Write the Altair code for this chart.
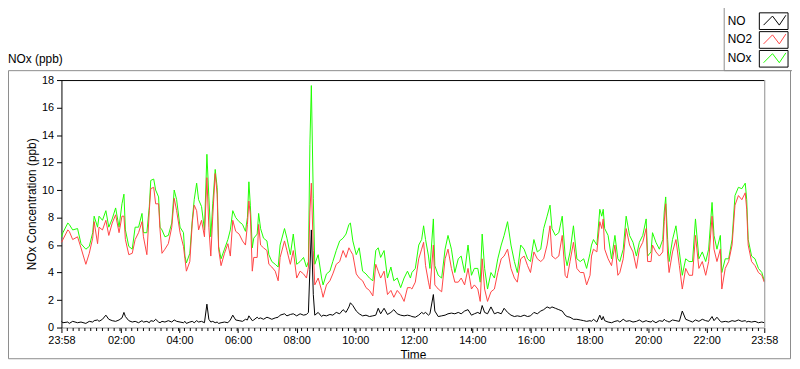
import altair as alt
import pandas as pd

# ---- data (minutes after 23:58, ppb) ----
MINUTES = [
    0, 3, 13, 16, 23, 33, 40, 50, 57, 64, 67, 74, 77, 84, 91, 97, 104, 111, 118, 124,
    128, 131, 138, 145, 151, 158, 165, 168, 175, 180, 183, 189,
    193, 199, 202, 206, 212, 219, 226, 231, 236, 243, 250, 253, 256, 263, 268, 272, 277, 281,
    287, 293, 298, 302, 306, 310, 315, 319, 322, 327, 334, 341, 346, 351,
    357, 364, 371, 377, 381, 384, 387, 391, 394, 401, 404, 408, 414, 421, 425, 431, 438, 444, 448, 457,
    462, 469, 475, 482, 489, 496, 502, 506, 509, 512, 516, 519, 526, 533, 536, 543, 550, 556, 563, 570,
    577, 583, 589, 592, 597, 604, 610, 617, 624, 631, 638, 644, 649, 654, 661, 668, 675, 681, 688, 695,
    702, 709, 715,
    718, 725, 732, 738, 742, 746, 752, 755, 762, 765, 772, 779, 786, 792, 799, 806, 813, 819, 826, 833,
    840, 846, 853, 858, 862, 867, 873, 880, 887, 894, 901, 907, 914, 921, 928, 934, 941, 948, 955, 961,
    968, 975, 982, 988, 995, 1001, 1005, 1012, 1019, 1026, 1032, 1036, 1042, 1049, 1056, 1063, 1070, 1076,
    1083, 1086, 1090, 1097, 1103, 1107, 1110, 1113, 1120, 1127, 1134, 1140, 1144, 1151, 1157, 1164, 1171, 1178, 1184, 1191,
    1198, 1201, 1208, 1211, 1218, 1225, 1232, 1235, 1238, 1242, 1245, 1252, 1259, 1266, 1272, 1279, 1286, 1293, 1299, 1306,
    1313, 1320, 1326, 1333, 1337, 1343, 1350, 1353, 1360, 1367, 1374, 1380, 1387, 1394, 1401, 1404, 1407, 1414, 1421, 1428,
    1435, 1440,
]
NOX = [
    6.6, 6.9, 7.6, 7.5, 7.1, 7.2, 6.1, 5.7, 5.9, 6.9, 8.1, 7.3, 8.1, 7.8, 8.5, 7.3, 7.9, 8.7, 7.3, 9.0,
    9.7, 7.1, 5.9, 5.7, 7.3, 7.3, 8.3, 6.9, 6.9, 8.8, 10.7, 10.8,
    10.0, 9.5, 7.3, 7.1, 6.6, 6.7, 7.6, 10.0, 9.3, 7.3, 6.9, 5.2, 4.7, 5.4, 7.8, 9.3, 10.5, 9.3,
    8.8, 7.1, 12.6, 9.5, 6.6, 9.0, 11.5, 10.2, 5.9, 5.0, 5.7, 6.4, 7.1, 8.5,
    8.0, 7.7, 7.5, 7.0, 8.0, 10.6, 8.9, 5.8, 6.5, 6.8, 8.3, 7.2, 6.5, 6.3, 5.3, 4.8, 4.6, 4.4, 6.0, 7.2,
    6.5, 5.3, 6.8, 4.6, 4.8, 5.1, 4.4, 4.8, 13.3, 17.6, 9.4, 4.6, 5.3, 3.6, 3.1, 3.9, 4.1, 4.8, 5.6, 6.3,
    6.5, 6.8, 7.5, 7.6, 6.3, 5.3, 5.8, 4.1, 3.9, 3.6, 3.4, 5.6, 5.8, 5.1, 5.6, 3.6, 4.4, 3.4, 3.6, 2.9,
    3.6, 4.1, 3.6,
    4.0, 4.3, 6.0, 6.4, 7.4, 6.4, 5.2, 4.3, 7.9, 4.5, 3.8, 3.6, 5.7, 6.7, 5.7, 4.0, 5.0, 5.2, 4.0, 6.0,
    3.8, 4.3, 4.3, 3.3, 6.8, 4.3, 2.8, 4.0, 3.6, 5.0, 6.0, 6.7, 7.7, 6.0, 4.8, 4.0, 6.0, 5.7, 5.0, 4.8,
    6.4, 5.5, 5.7, 7.2, 8.1, 8.9, 7.2, 6.7, 6.9, 8.1, 5.2, 4.5, 5.5, 7.4, 5.0, 4.8, 5.0, 4.3,
    5.4, 6.0, 6.4, 6.0, 8.6, 8.1, 8.6, 7.2, 6.7, 5.0, 6.7, 5.0, 4.8, 5.7, 8.1, 6.7, 6.2, 5.2, 6.2, 6.7,
    7.9, 5.2, 5.5, 6.9, 6.2, 5.7, 6.4, 8.4, 9.5, 6.4, 4.8, 6.4, 7.4, 5.5, 3.8, 5.0, 4.8, 4.8, 7.9, 5.0,
    5.5, 4.8, 5.7, 9.1, 6.7, 5.7, 6.7, 4.0, 5.0, 5.0, 6.4, 9.6, 10.2, 10.1, 10.5, 9.3, 6.4, 5.2, 5.0, 4.3,
    4.0, 3.4,
]
NO2 = [
    6.2, 6.4, 7.1, 7.0, 6.4, 6.6, 5.8, 4.6, 5.4, 6.5, 7.7, 6.1, 7.3, 7.1, 7.8, 6.7, 7.6, 8.2, 6.9, 8.1,
    8.1, 6.4, 5.3, 5.4, 6.4, 6.9, 7.7, 6.6, 5.3, 8.5, 10.1, 10.2,
    9.0, 9.0, 7.1, 5.4, 5.7, 6.1, 7.3, 9.4, 8.5, 6.9, 5.9, 5.0, 4.1, 4.8, 7.6, 8.9, 8.5, 7.1,
    7.8, 6.6, 10.9, 7.3, 5.2, 8.1, 11.2, 9.7, 5.7, 4.5, 5.4, 6.1, 5.2, 7.8,
    7.0, 6.8, 6.3, 6.0, 7.5, 9.2, 8.2, 4.1, 5.1, 5.1, 7.5, 6.0, 5.8, 5.6, 4.6, 4.4, 4.1, 3.4, 5.1, 6.3,
    5.6, 4.6, 5.6, 3.6, 4.1, 3.9, 3.6, 4.4, 8.4, 10.5, 5.6, 3.1, 3.6, 2.7, 2.2, 3.1, 3.4, 3.9, 4.6, 4.8,
    5.6, 5.1, 5.8, 5.6, 5.3, 3.9, 3.6, 3.4, 2.9, 2.7, 2.3, 4.6, 4.1, 3.6, 4.1, 2.4, 2.7, 2.2, 2.7, 2.4,
    1.9, 2.9, 2.9,
    2.8, 3.3, 5.0, 5.7, 6.2, 4.5, 3.3, 2.8, 6.0, 3.1, 2.8, 2.6, 5.0, 5.7, 4.3, 3.3, 3.3, 3.6, 3.1, 4.3,
    2.8, 3.1, 2.8, 1.9, 5.0, 2.8, 1.9, 2.6, 2.8, 4.0, 5.0, 5.2, 5.7, 4.3, 3.6, 3.3, 5.0, 5.2, 4.5, 4.0,
    5.5, 5.0, 4.8, 5.0, 6.0, 7.4, 5.2, 5.0, 5.2, 6.7, 3.8, 3.6, 4.8, 6.2, 4.3, 4.0, 4.0, 3.1,
    3.8, 5.2, 5.7, 5.5, 7.7, 7.2, 7.9, 5.7, 5.0, 4.5, 6.0, 3.8, 4.0, 5.0, 7.2, 6.0, 5.5, 4.3, 5.7, 6.2,
    7.2, 4.8, 4.8, 6.0, 5.5, 5.2, 5.5, 7.7, 9.0, 5.2, 4.0, 5.5, 6.4, 4.5, 2.8, 4.3, 3.8, 3.8, 6.7, 4.3,
    4.8, 3.8, 4.8, 8.1, 5.7, 4.8, 5.7, 2.8, 4.3, 4.8, 6.0, 8.9, 9.6, 9.3, 9.8, 8.6, 6.0, 4.8, 4.5, 4.0,
    3.8, 3.3,
]
NO = [
    0.45, 0.35, 0.4, 0.3, 0.45, 0.35, 0.4, 0.3, 0.45, 0.4, 0.5, 0.55, 0.45, 0.6, 0.9, 0.6, 0.5, 0.45, 0.55, 0.7,
    1.1, 0.8, 0.5, 0.4, 0.45, 0.35, 0.5, 0.4, 0.45, 0.35, 0.5, 0.45,
    0.6, 0.4, 0.35, 0.45, 0.4, 0.5, 0.4, 0.55, 0.45, 0.4, 0.35, 0.45, 0.3, 0.4, 0.45, 0.35, 0.5, 0.4,
    0.45, 0.35, 1.7, 0.6, 0.4, 0.45, 0.35, 0.4, 0.3, 0.35, 0.4, 0.35, 0.55, 0.9,
    0.55, 0.5, 0.45, 0.6, 0.55, 0.85, 0.7, 0.5, 0.55, 0.75, 0.65, 0.7, 0.6, 0.75, 0.7, 0.6, 0.7, 0.75, 0.9, 1.0,
    0.85, 0.95, 1.0, 0.85, 1.0, 0.9, 0.95, 1.1, 4.2, 7.1, 2.4, 0.9, 1.1, 0.8, 0.9, 0.85, 0.95, 0.9, 1.1, 1.0,
    1.3, 1.1, 1.5, 1.8, 1.6, 1.2, 1.0, 0.85, 0.9, 0.8, 0.85, 0.9, 1.4, 1.0, 1.4, 0.95, 1.1, 1.3, 1.0, 0.9,
    0.85, 0.9, 0.85,
    0.8, 0.75, 0.9, 1.1, 1.0, 1.1, 0.9, 1.0, 2.4, 1.2, 0.8, 0.85, 0.9, 1.0, 1.05, 1.0, 1.1, 1.0, 1.2, 1.3,
    0.9, 1.0, 1.1, 1.0, 1.6, 1.1, 1.0, 1.5, 1.0, 1.1, 1.0, 1.4, 1.1, 0.9, 0.8, 0.85, 0.8, 0.9, 0.8, 0.85,
    1.1, 1.0, 1.2, 1.3, 1.5, 1.4, 1.5, 1.4, 1.3, 1.2, 0.9, 0.8, 0.75, 0.6, 0.6, 0.55, 0.5, 0.45,
    0.5, 0.45, 0.6, 0.4, 0.9, 0.55, 0.8, 0.5, 0.4, 0.35, 0.45, 0.5, 0.4, 0.6, 0.45, 0.5, 0.4, 0.45, 0.55, 0.4,
    0.5, 0.45, 0.4, 0.5, 0.35, 0.5, 0.45, 0.6, 0.5, 0.45, 0.4, 0.55, 0.5, 0.45, 1.2, 0.6, 0.5, 0.4, 0.55, 0.45,
    0.6, 0.5, 0.45, 0.8, 0.5, 0.75, 0.45, 0.4, 0.45, 0.4, 0.5, 0.45, 0.55, 0.45, 0.5, 0.4, 0.45, 0.4, 0.45, 0.35,
    0.4, 0.35,
]
assert len(MINUTES) == len(NOX) == len(NO2) == len(NO)

SERIES = ["NO", "NO2", "NOx"]
COLORS = ["#000000", "#FF4444", "#1EFF00"]
X_TICK_LABELS = ["23:58", "02:00", "04:00", "06:00", "08:00", "10:00", "12:00",
                 "14:00", "16:00", "18:00", "20:00", "22:00", "23:58"]
Y_TICKS = [0, 2, 4, 6, 8, 10, 12, 14, 16, 18]
START = "2015-03-09 23:58"
MINOR_STEP_MIN = 12

# ---- layout / style ----
W, H = 710, 250
FONT = "Liberation Sans"
GRAY = "#8c8c8c"

start = pd.Timestamp(START)
df = pd.DataFrame({
    "time": [start + pd.Timedelta(minutes=m) for m in MINUTES],
    "NO": NO, "NO2": NO2, "NOx": NOX,
})


def dt(ts):
    return alt.DateTime(year=ts.year, month=ts.month, date=ts.day,
                        hours=ts.hour, minutes=ts.minute)


tick_ts = []
for i, lab in enumerate(X_TICK_LABELS):
    h, m = map(int, lab.split(":"))
    day = start.normalize() + pd.Timedelta(days=0 if i == 0 else 1)
    tick_ts.append(day + pd.Timedelta(hours=h, minutes=m))
end = tick_ts[-1]

minor_df = pd.DataFrame({"time": [start + pd.Timedelta(minutes=MINOR_STEP_MIN * k)
                                  for k in range(1, int((end - start).total_seconds() // 60 // MINOR_STEP_MIN))]})

xscale = alt.Scale(domain=[dt(start), dt(end)])
xaxis = alt.Axis(values=[dt(t) for t in tick_ts], format="%H:%M", title="Time",
                 grid=False, tickSize=5, tickColor="black", domainColor=GRAY,
                 labelFontSize=11, labelColor="black", labelPadding=2, labelFlush=False,
                 labelOverlap=False, labelFont=FONT, titleFont=FONT, titleFontSize=12,
                 titleFontWeight="normal", titleColor="black", titlePadding=4)
yscale = alt.Scale(domain=[0, 18], nice=False)
yaxis = alt.Axis(values=Y_TICKS, title="NOx Concentration (ppb)", grid=False, tickSize=5,
                 tickColor="black", domainColor="black", labelFontSize=11, labelColor="black",
                 labelPadding=3, labelFont=FONT, titleFont=FONT, titleFontSize=12,
                 titleFontWeight="normal", titleColor="black", titlePadding=3)

X = alt.X("time:T", scale=xscale, axis=xaxis)


def series_layer(field, color):
    return alt.Chart(df).mark_line(color=color, strokeWidth=1).encode(
        x=X, y=alt.Y(f"{field}:Q", scale=yscale, axis=yaxis))


one = pd.DataFrame({"k": [0]})


def deco(mark, **enc):
    return alt.Chart(one).mark_rule(**mark).encode(**{k: alt.value(v) for k, v in enc.items()})


outer = alt.Chart(one).mark_rect(fillOpacity=0, stroke=GRAY, strokeWidth=1).encode(
    x=alt.value(-53.5), x2=alt.value(736.5), y=alt.value(-9.5), y2=alt.value(281.5))
legend_box = alt.Chart(one).mark_rect(fillOpacity=0, stroke=GRAY, strokeWidth=1).encode(
    x=alt.value(669.5), x2=alt.value(745), y=alt.value(-80), y2=alt.value(-9.5))

top_border = deco(dict(color="black", strokeWidth=1), x=0, x2=W, y=0.5)
right_border = deco(dict(color=GRAY, strokeWidth=1), x=W + 0.5, y=0, y2=H)

minor_ticks = alt.Chart(minor_df).mark_rule(color="black", strokeWidth=1).encode(
    x=X, y=alt.value(H + 0.5), y2=alt.value(H + 3.5))

title = alt.Chart(one).mark_text(text="NOx (ppb)", align="left", baseline="middle",
                                 font=FONT, fontSize=12, color="black").encode(
    x=alt.value(-54), y=alt.value(-21))

BOX_PATH = "M-1,-0.58H1V0.58H-1Z"
ZIG_PATH = "M-0.77,0.3L-0.09,-0.39L0.43,0.3L0.93,-0.45"
legend_layers = []
for i, (name, color) in enumerate(zip(SERIES, COLORS)):
    ry = -60 + i * 19
    legend_layers.append(alt.Chart(one).mark_text(
        text=name, align="left", baseline="middle", font=FONT, fontSize=12, color="black").encode(
        x=alt.value(673), y=alt.value(ry)))
    legend_layers.append(alt.Chart(one).mark_point(
        shape=BOX_PATH, size=841, filled=True, fill="white", stroke="black", strokeWidth=1,
        opacity=1, fillOpacity=1, strokeOpacity=1).encode(x=alt.value(719.5), y=alt.value(ry + 0.5)))
    legend_layers.append(alt.Chart(one).mark_point(
        shape=ZIG_PATH, size=700, filled=False, color=color, strokeWidth=1, opacity=1).encode(
        x=alt.value(719.5), y=alt.value(ry + 0.5)))

chart = alt.layer(
    outer, legend_box,
    series_layer("NOx", COLORS[2]),
    series_layer("NO2", COLORS[1]),
    series_layer("NO", COLORS[0]),
    top_border, right_border, minor_ticks, title,
    *legend_layers,
).properties(
    width=W, height=H,
    autosize=alt.AutoSizeParams(type="none"),
    padding={"left": 54, "top": 71, "right": 28, "bottom": 32},
    background="white",
).configure_view(stroke="transparent")

chart.save("out.html", embed_options={"renderer": "svg", "actions": False})
